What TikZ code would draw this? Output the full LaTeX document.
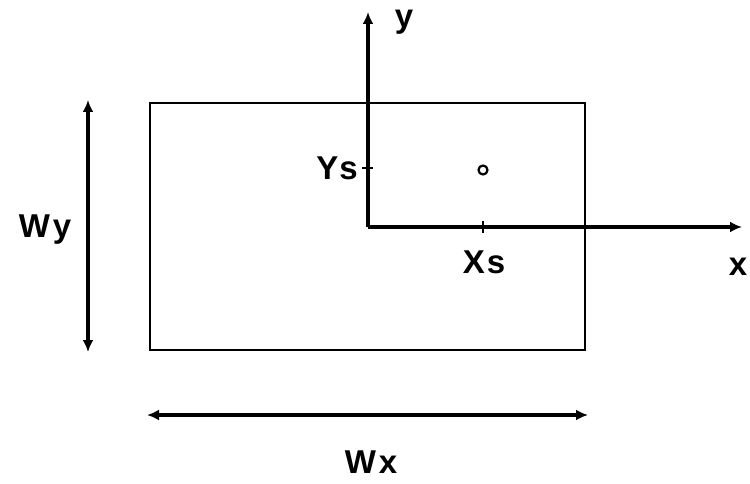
\documentclass[tikz,border=0pt]{standalone}
\usepackage{fontspec}
\setmainfont{Liberation Sans}
\usetikzlibrary{arrows.meta}
\begin{document}
\begin{tikzpicture}[x=1pt,y=-1pt,
  thinline/.style={line width=1.8pt},
  thickline/.style={line width=3.4pt},
  tip/.style={-{Latex[length=12pt,width=11pt]}},
  dim/.style={thickline,{Latex[length=12pt,width=11pt]}-{Latex[length=12pt,width=11pt]}},
  lbl/.style={font=\fontsize{33}{36}\selectfont\bfseries, inner sep=0pt}]
\useasboundingbox (0,0) rectangle (750,484);
% rectangle
\draw[thinline] (150,103) rectangle (585,350);
% axes
\coordinate (O) at (368,227);
\coordinate (ytop) at (368,12);
\coordinate (xend) at (742,227);
\draw[thickline, tip] (O) -- (ytop);
\draw[thickline, tip] (O) -- (xend);
% ticks
\coordinate (ys) at (368,168);
\coordinate (xs) at (483,227);
\draw[line width=2.4pt] ([xshift=-6pt]ys) -- ([xshift=5pt]ys);
\draw[line width=2.4pt] ([yshift=-6pt]xs) -- ([yshift=6pt]xs);
% point
\node[circle, draw, line width=2.2pt, minimum size=9pt, inner sep=0pt] (pt) at (483,170) {};
% labels
\node[lbl] (ly) at (404,22) {y};
\node[lbl] (lys) at (337,168) {Y\kern1pt s};
\node[lbl] (lxs) at (484,262) {X\kern2pt s};
\node[lbl] (lx) at (738,267) {x};
\node[lbl] (lwy) at (45,230) {W\kern3pt y};
\node[lbl] (lwx) at (371,462) {W\kern3pt x};
% dimension arrows
\coordinate (wyt) at (88,100);
\coordinate (wyb) at (88,352);
\coordinate (wxl) at (147,415);
\coordinate (wxr) at (588,415);
\draw[dim] (wyt) -- (wyb);
\draw[dim] (wxl) -- (wxr);
\end{tikzpicture}
\end{document}
